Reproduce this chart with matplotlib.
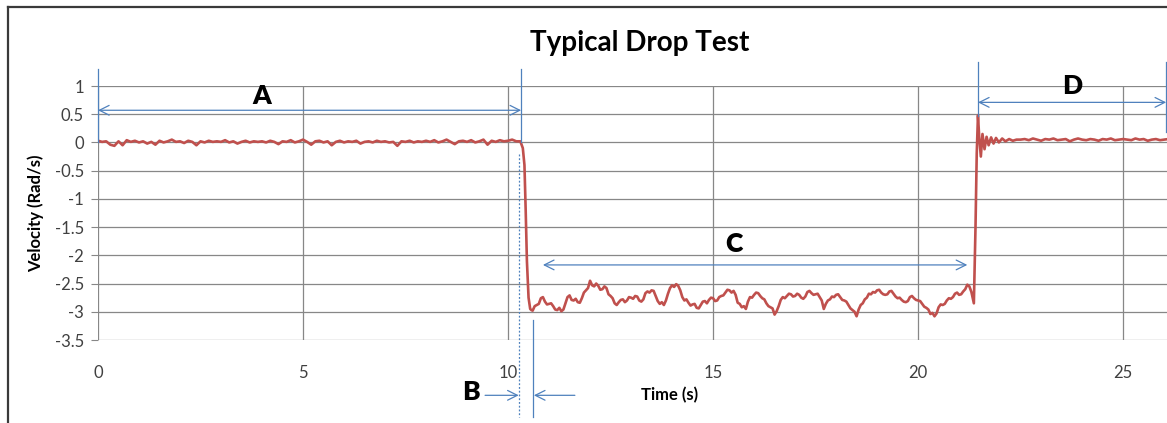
import numpy as np
import matplotlib.pyplot as plt
from matplotlib.lines import Line2D

plt.rcParams['font.family'] = ['Lato', 'DejaVu Sans']

# velocity trace, sampled per segment
a_time = np.round(np.arange(0, 10.35, 0.1), 2)
a_vel = [0.03, 0.01, 0.02, -0.04, -0.06, 0.02, -0.05, 0.04, 0.01, 0.03,
         0.00, 0.02, -0.02, 0.01, -0.04, 0.03, 0.00, 0.02, 0.05, 0.01,
         0.02, -0.01, 0.03, 0.01, -0.05, 0.02, 0.00, 0.03, 0.01, 0.02,
         0.01, 0.04, 0.00, 0.02, -0.02, 0.01, 0.03, 0.00, 0.02, 0.01,
         0.02, 0.00, 0.03, 0.01, -0.03, 0.02, 0.01, 0.04, 0.00, 0.02,
         0.05, 0.01, -0.04, 0.02, 0.03, 0.00, 0.02, -0.05, 0.01, 0.03,
         0.00, 0.02, 0.01, 0.03, -0.02, 0.01, 0.02, 0.00, 0.03, 0.01,
         0.02, 0.00, 0.01, -0.06, 0.02, 0.01, 0.03, 0.00, 0.02, 0.01,
         0.03, 0.01, 0.04, 0.00, 0.02, 0.05, 0.01, -0.03, 0.02, 0.03,
         0.01, 0.04, 0.00, 0.02, 0.05, -0.04, 0.03, 0.01, 0.04, 0.02,
         0.03, 0.05, 0.02, 0.02]

drop_time = [10.36, 10.40, 10.43, 10.46, 10.50, 10.54, 10.57]
drop_vel = [-0.10, -0.40, -1.20, -2.10, -2.75, -2.95, -2.97]

c_time = np.round(np.arange(10.6, 21.32, 0.05), 2)
c_vel = [-2.98, -2.90, -2.88, -2.86, -2.76, -2.74, -2.82, -2.87, -2.86, -2.85,
         -2.90, -2.96, -2.97, -2.93, -2.99, -2.96, -2.85, -2.74, -2.71, -2.79,
         -2.80, -2.77, -2.83, -2.84, -2.76, -2.66, -2.62, -2.58, -2.45, -2.53,
         -2.55, -2.50, -2.54, -2.61, -2.60, -2.55, -2.58, -2.69, -2.72, -2.76,
         -2.85, -2.88, -2.83, -2.79, -2.78, -2.83, -2.80, -2.74, -2.75, -2.77,
         -2.72, -2.73, -2.80, -2.82, -2.78, -2.67, -2.64, -2.66, -2.62, -2.63,
         -2.72, -2.81, -2.86, -2.83, -2.88, -2.80, -2.68, -2.58, -2.53, -2.56,
         -2.51, -2.54, -2.62, -2.74, -2.80, -2.78, -2.84, -2.89, -2.87, -2.86,
         -2.93, -2.94, -2.88, -2.82, -2.81, -2.85, -2.79, -2.75, -2.76, -2.81,
         -2.80, -2.74, -2.72, -2.71, -2.66, -2.61, -2.62, -2.66, -2.63, -2.70,
         -2.84, -2.86, -2.92, -2.90, -2.95, -2.82, -2.74, -2.75, -2.70, -2.66,
         -2.67, -2.72, -2.76, -2.78, -2.85, -2.90, -2.92, -2.94, -3.05, -2.99,
         -2.90, -2.79, -2.74, -2.76, -2.72, -2.68, -2.69, -2.73, -2.72, -2.68,
         -2.70, -2.75, -2.77, -2.73, -2.65, -2.63, -2.67, -2.70, -2.69, -2.68,
         -2.74, -2.80, -2.95, -2.86, -2.80, -2.78, -2.73, -2.74, -2.70, -2.69,
         -2.74, -2.79, -2.80, -2.82, -2.88, -2.94, -2.97, -3.00, -3.08, -2.96,
         -2.88, -2.85, -2.78, -2.75, -2.68, -2.69, -2.65, -2.66, -2.62, -2.61,
         -2.66, -2.69, -2.70, -2.69, -2.64, -2.63, -2.68, -2.73, -2.76, -2.75,
         -2.79, -2.82, -2.83, -2.81, -2.74, -2.72, -2.76, -2.79, -2.80, -2.81,
         -2.86, -2.91, -2.93, -2.96, -3.04, -3.02, -3.08, -3.03, -2.92, -2.87,
         -2.88, -2.86, -2.80, -2.76, -2.77, -2.74, -2.68, -2.66, -2.70, -2.69,
         -2.64, -2.60, -2.52, -2.55, -2.65]

rise_time = [21.36, 21.40, 21.43, 21.46, 21.49, 21.53, 21.57, 21.62, 21.67, 21.72,
             21.78, 21.84, 21.90, 21.97, 22.05, 22.13, 22.22, 22.31, 22.40]
rise_vel = [-2.85, -1.50, -0.20, 0.48, 0.10, -0.25, 0.15, -0.12, 0.10, -0.05,
            0.09, -0.02, 0.08, 0.00, 0.07, 0.02, 0.06, 0.03, 0.05]

d_time = np.round(np.arange(22.5, 26.15, 0.1), 2)
d_vel = [0.05, 0.06, 0.04, 0.07, 0.05, 0.03, 0.06, 0.05, 0.07, 0.04,
         0.05, 0.06, 0.02, 0.05, 0.07, 0.05, 0.04, 0.06, 0.05, 0.03,
         0.06, 0.05, 0.07, 0.04, 0.05, 0.06, 0.05, 0.04, 0.07, 0.05,
         0.06, 0.03, 0.05, 0.06, 0.04, 0.05, 0.06]

time = np.concatenate([a_time, drop_time, c_time, rise_time, d_time])
vel = np.concatenate([a_vel, drop_vel, c_vel, rise_vel, d_vel])

red = '#C0504D'
blue = '#4F81BD'
grid = '#878787'

fig = plt.figure(figsize=(11.67, 4.23), dpi=100)
ax = fig.add_axes([98 / 1167, 83 / 423, 1069 / 1167, 254 / 423])

ax.plot(time, vel, color=red, lw=1.9, zorder=3)

ax.set_xlim(0, 26.07)
ax.set_ylim(-3.5, 1)
ax.set_xticks([0, 5, 10, 15, 20, 25])
ax.set_yticks([1, 0.5, 0, -0.5, -1, -1.5, -2, -2.5, -3, -3.5])
ax.set_yticklabels(['1', '0.5', '0', '-0.5', '-1', '-1.5', '-2', '-2.5', '-3', '-3.5'])
ax.grid(True, color=grid, lw=0.9)
for s in ax.spines.values():
    s.set_visible(False)
ax.tick_params(axis='y', length=5, color=grid, labelsize=12, labelcolor='#404040', pad=5)
ax.tick_params(axis='x', length=0, labelsize=12, labelcolor='#404040', pad=18)

ax.set_ylabel('Velocity (Rad/s)', fontsize=12, fontweight='bold', labelpad=8)
ax.text(13.95, -4.48, 'Time (s)', fontsize=12, fontweight='bold', ha='center', va='center')
fig.text(0.548, 0.898, 'Typical Drop Test', fontsize=20, fontweight='bold', ha='center', va='center')

# dimension markers
def vline(x, y0, y1, **kw):
    ax.plot([x, x], [y0, y1], color=blue, lw=0.9, clip_on=False, zorder=4, **kw)

def span(x0, x1, y, style='<->'):
    ax.annotate('', xy=(x1, y), xytext=(x0, y), annotation_clip=False,
                arrowprops=dict(arrowstyle=style + ',head_length=0.7,head_width=0.35',
                                color=blue, lw=0.9, shrinkA=0, shrinkB=0))

vline(0, 0, 1.30)
vline(10.32, 0, 1.30)
span(0, 10.32, 0.57)
ax.text(4.0, 0.82, 'A', fontsize=19, fontweight='heavy', ha='center', va='center')

vline(10.26, -0.21, -4.87, ls=(0, (1.5, 1.5)))
vline(10.60, -3.14, -4.87)
span(9.44, 10.26, -4.48, '->')
span(11.63, 10.63, -4.48, '->')
ax.text(9.1, -4.42, 'B', fontsize=19, fontweight='heavy', ha='center', va='center')

span(10.85, 21.2, -2.17)
ax.text(15.5, -1.8, 'C', fontsize=19, fontweight='heavy', ha='center', va='center')

vline(21.46, 1.42, 0.46)
vline(26.05, 1.42, 0.18)
span(21.46, 26.05, 0.71)
ax.text(23.76, 1.0, 'D', fontsize=19, fontweight='heavy', ha='center', va='center')

# outer frame
fig.add_artist(Line2D([8 / 1167, 8 / 1167], [0, 1 - 7 / 423], color='#3a3a3a', lw=1.6))
fig.add_artist(Line2D([8 / 1167, 1], [1 - 7 / 423, 1 - 7 / 423], color='#3a3a3a', lw=1.6))

fig.savefig('out.png', dpi=100)
